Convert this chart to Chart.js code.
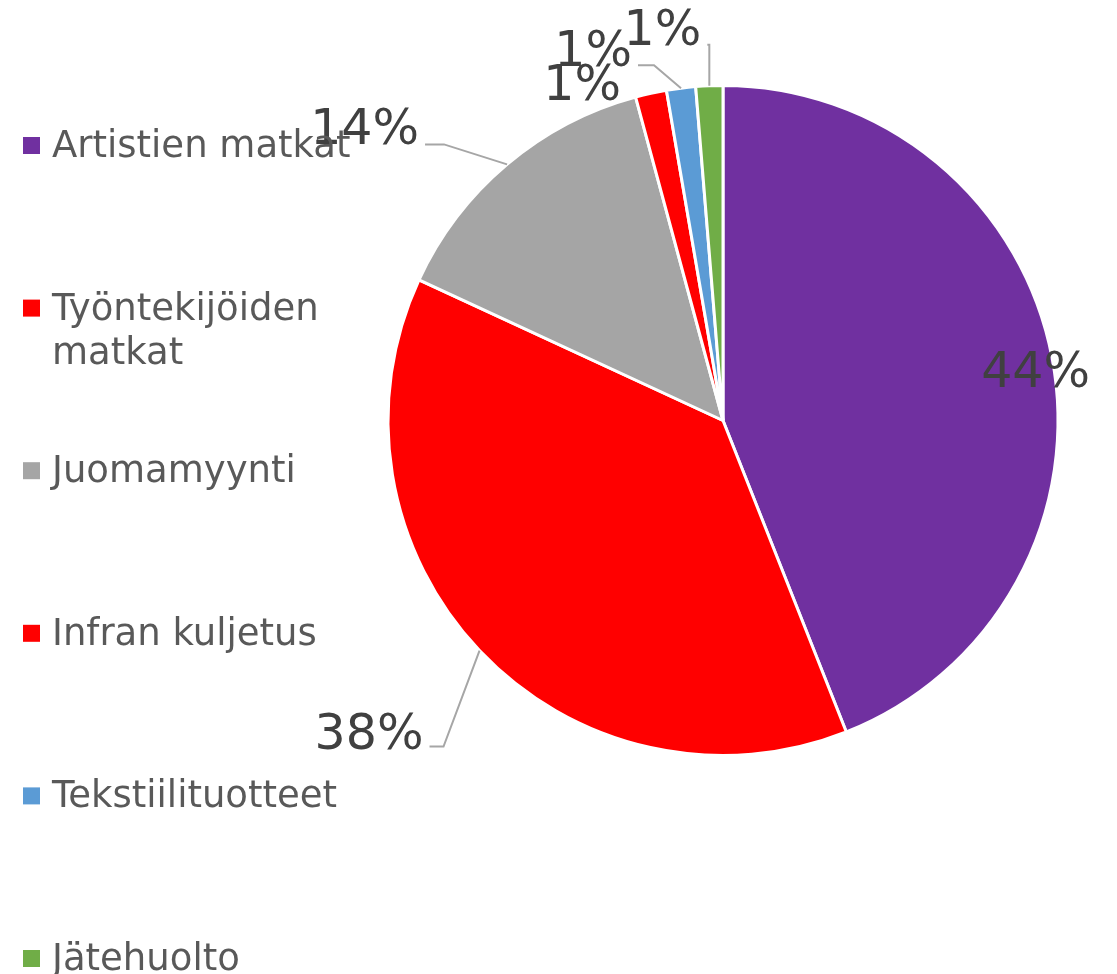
<!DOCTYPE html>
<html>
<head>
<meta charset="utf-8">
<script src="https://cdn.jsdelivr.net/npm/chart.js@4.4.1/dist/chart.umd.min.js"></script>
<style>
  html, body { margin: 0; padding: 0; background: #fff; }
  #wrap { width: 1117px; height: 974px; position: relative; }
</style>
</head>
<body>
<div id="wrap"><canvas id="pie"></canvas></div>
<script>
// données
const categories = ['Artistien matkat', 'Työntekijöiden matkat', 'Juomamyynti', 'Infran kuljetus', 'Tekstiilituotteet', 'Jätehuolto'];
const shares = [44.0, 37.9, 13.9, 1.5, 1.4, 1.3];
const shareLabels = ['44%', '38%', '14%', '1%', '1%', '1%'];

// style
const sliceColors = ['#7030A0', '#FF0000', '#A5A5A5', '#FF0000', '#5B9BD5', '#70AD47'];
// décalage du texte (bord droit, ligne de base) par rapport au milieu de l'arc, et coude du trait
const labelOffsets = [[38, 29], [-56, 98], [-88, -20], [-30, 7], [-49, -22], [-8, -41]];
const leaderElbows = [null, [-36, 96], [-63, -20], null, [-27, -23], [0, -41]];

const FONT = '"DejaVu Sans", Verdana, sans-serif';

const labelsPlugin = {
    id: 'pctLabels',
    afterDatasetsDraw(chart) {
        const ctx = chart.ctx;
        const meta = chart.getDatasetMeta(0);
        ctx.save();
        meta.data.forEach((arc, i) => {
            const p = arc.getProps(['x', 'y', 'startAngle', 'endAngle', 'outerRadius'], true);
            const mid = (p.startAngle + p.endAngle) / 2;
            const mx = p.x + p.outerRadius * Math.cos(mid);
            const my = p.y + p.outerRadius * Math.sin(mid);
            const tx = mx + labelOffsets[i][0];
            const ty = my + labelOffsets[i][1];

            // trait de rappel
            const elbow = leaderElbows[i];
            if (elbow) {
                const ex = mx + elbow[0];
                const ey = my + elbow[1];
                ctx.strokeStyle = '#A6A6A6';
                ctx.lineWidth = 2;
                ctx.beginPath();
                ctx.moveTo(mx, my);
                ctx.lineTo(ex, ey);
                if (ex > tx + 6) ctx.lineTo(tx + 6, ey);
                ctx.stroke();
            }

            ctx.font = '49px ' + FONT;
            ctx.fillStyle = '#404040';
            ctx.textAlign = 'right';
            ctx.textBaseline = 'alphabetic';
            ctx.fillText(shareLabels[i], tx, ty);
        });
        ctx.restore();
    }
};

const legendPlugin = {
    id: 'leftLegend',
    afterDraw(chart) {
        const ctx = chart.ctx;
        ctx.save();
        ctx.font = '37px ' + FONT;
        ctx.textAlign = 'left';
        ctx.textBaseline = 'alphabetic';
        const maxW = 330;
        categories.forEach((name, i) => {
            const base = 157 + i * 162.6;
            // retour à la ligne si le texte est trop long
            const words = name.split(' ');
            const lines = [];
            let cur = '';
            words.forEach(w => {
                const test = cur ? cur + ' ' + w : w;
                if (ctx.measureText(test).width > maxW && cur) {
                    lines.push(cur);
                    cur = w;
                } else {
                    cur = test;
                }
            });
            lines.push(cur);

            ctx.fillStyle = sliceColors[i];
            ctx.fillRect(23, base - 20, 17, 17);
            ctx.fillStyle = '#595959';
            lines.forEach((l, j) => ctx.fillText(l, 52, base + j * 44));
        });
        ctx.restore();
    }
};

new Chart(document.getElementById('pie'), {
    type: 'pie',
    data: {
        labels: categories,
        datasets: [{
            data: shares,
            backgroundColor: sliceColors,
            borderColor: '#FFFFFF',
            borderWidth: 3,
        }],
    },
    options: {
        responsive: true,
        maintainAspectRatio: false,
        animation: false,
        layout: { padding: { left: 386, right: 57, top: 84, bottom: 217 } },
        plugins: {
            legend: { display: false },
            tooltip: { enabled: false },
        },
    },
    plugins: [labelsPlugin, legendPlugin],
});
</script>
</body>
</html>
